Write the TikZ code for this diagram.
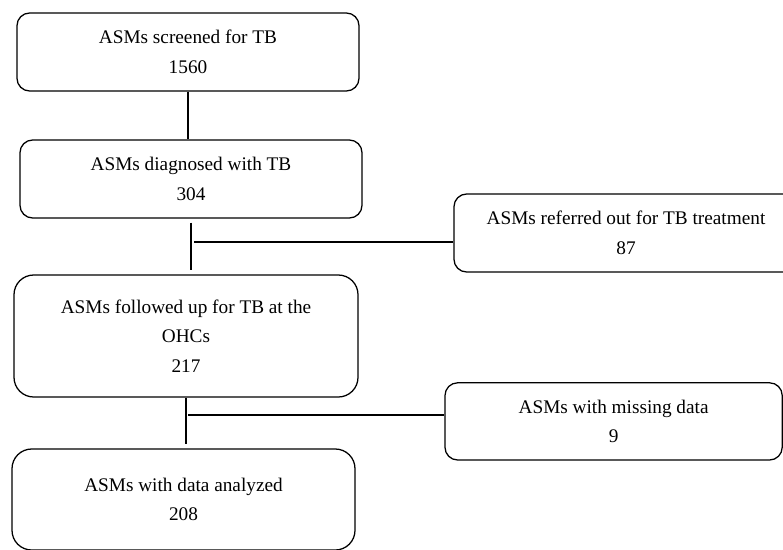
\documentclass[tikz,border=0pt]{standalone}
\usepackage{fontspec}
\setmainfont{Liberation Serif}

\begin{document}
\begin{tikzpicture}[
  box/.style={draw, rounded corners=9pt, line width=0.9pt, align=center, inner sep=0pt,
    font=\fontsize{13.7}{21}\selectfont},
  trunk/.style={line width=1.5pt},
  side/.style={line width=0.8pt},
]
\useasboundingbox (0,0) rectangle (19.575,13.725);
\node[box, minimum width=8.55cm, minimum height=1.95cm] (scr) at (4.7,12.425) {ASMs screened for TB\\1560};
\node[box, minimum width=8.55cm, minimum height=1.95cm] (dia) at (4.775,9.25) {ASMs diagnosed with TB\\304};
\node[box, minimum width=8.6cm, minimum height=1.95cm] (ref) at (15.65,7.9) {ASMs referred out for TB treatment\\87};
\node[box, rounded corners=14pt, minimum width=8.6cm, minimum height=3.05cm] (fol) at (4.65,5.325) {ASMs followed up for TB at the\\OHCs\\217};
\node[box, minimum width=8.43cm, minimum height=1.93cm] (mis) at (15.34,3.19) {ASMs with missing data\\9};
\node[box, rounded corners=14pt, minimum width=8.575cm, minimum height=2.525cm] (ana) at (4.5875,1.2375) {ASMs with data analyzed\\208};
\coordinate (b1) at (4.85,7.675);
\coordinate (b2) at (4.7,3.35);
\draw[trunk] (scr.south) -- (scr.south |- dia.north);
\draw[trunk] ([yshift=-0.1cm]dia.south) -- ([yshift=0.12cm]dia.south |- fol.north);
\draw[side] (b1) -- (b1 -| ref.west);
\draw[trunk] (fol.south) -- ([yshift=0.12cm]fol.south |- ana.north);
\draw[side] (b2) -- (b2 -| mis.west);
\end{tikzpicture}
\end{document}
